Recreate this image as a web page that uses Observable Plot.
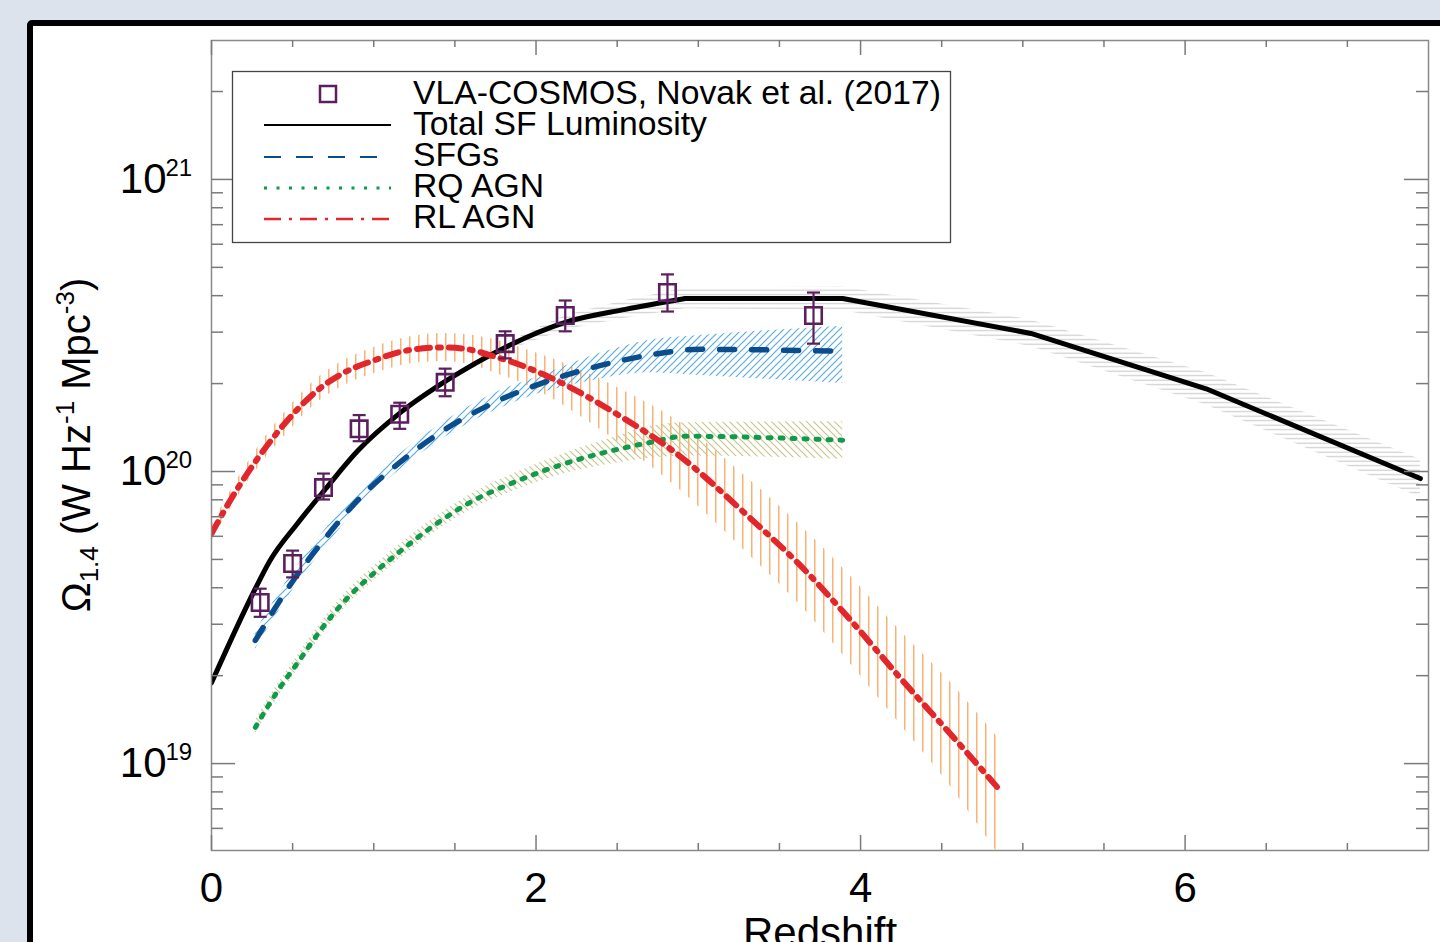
<!DOCTYPE html>
<html>
<head>
<meta charset="utf-8">
<script src="https://cdn.jsdelivr.net/npm/d3@7"></script>
<script src="https://cdn.jsdelivr.net/npm/@observablehq/plot@0.6"></script>
<style>
html,body{margin:0;padding:0;}
body{width:1440px;height:942px;overflow:hidden;background:#dde3ed;position:relative;font-family:"Liberation Sans",Arial,Helvetica,sans-serif;}
#frame{position:absolute;left:27px;top:20px;width:1500px;height:1000px;border:6px solid #000;border-radius:5px;background:#fff;box-sizing:border-box;}
#chart{position:absolute;left:0;top:0;}
#legend{position:absolute;left:0;top:0;}
</style>
</head>
<body>
<div id="frame"></div>
<div id="chart"></div>
<svg id="legend" width="1440" height="942" xmlns="http://www.w3.org/2000/svg" font-family="Liberation Sans, Arial, sans-serif">
  <rect x="232.5" y="71.5" width="718" height="171" fill="#fff" stroke="#444" stroke-width="1.3"/>
  <rect x="320" y="86" width="16" height="16" fill="none" stroke="#5c1f5e" stroke-width="2.5"/>
  <line x1="264" y1="125" x2="391" y2="125" stroke="#000" stroke-width="2"/>
  <line x1="264" y1="157" x2="391" y2="157" stroke="#0b4d8c" stroke-width="2.2" stroke-dasharray="17,15"/>
  <line x1="264" y1="188" x2="391" y2="188" stroke="#0f9a4c" stroke-width="3" stroke-dasharray="3,9.5"/>
  <line x1="264" y1="219" x2="391" y2="219" stroke="#e1262c" stroke-width="2.4" stroke-dasharray="17,8,3,8"/>
  <g font-size="33.7" fill="#000">
    <text x="413" y="103.8">VLA-COSMOS, Novak et al. (2017)</text>
    <text x="413" y="134.8">Total SF Luminosity</text>
    <text x="413" y="165.8">SFGs</text>
    <text x="413" y="196.8">RQ AGN</text>
    <text x="413" y="227.8">RL AGN</text>
  </g>
</svg>
<script>
// ---------- data ----------
// VLA-COSMOS data points (redshift, value, error-bar low, error-bar high)
const obsZ   = [0.30, 0.50, 0.69, 0.91, 1.16, 1.44, 1.81, 2.18, 2.81, 3.71];
const obsVal = [3.56e19, 4.84e19, 8.81e19, 1.40e20, 1.57e20, 2.02e20, 2.74e20, 3.42e20, 4.10e20, 3.42e20];
const obsLo  = [3.18e19, 4.34e19, 8.02e19, 1.27e20, 1.40e20, 1.81e20, 2.44e20, 3.02e20, 3.53e20, 2.74e20];
const obsHi  = [3.97e19, 5.36e19, 9.84e19, 1.56e20, 1.72e20, 2.25e20, 3.02e20, 3.85e20, 4.73e20, 4.10e20];

// Total SF luminosity (smooth part up to z=2.92, straight segments after)
const totZ   = [0, 0.27, 0.36, 0.53, 0.70, 0.90, 1.17, 1.45, 1.81, 2.18, 2.55, 2.92, 3.89, 5.05, 6.13, 7.45];
const totVal = [1.89e19, 3.97e19, 4.95e19, 6.64e19, 8.68e19, 1.175e20, 1.60e20, 2.05e20, 2.66e20, 3.24e20, 3.59e20, 3.91e20, 3.91e20, 2.97e20, 1.92e20, 9.46e19];
const totBandZ = [1.81, 2.18, 2.55, 2.92, 3.89, 5.05, 6.13, 7.45];
const totLo    = [2.57e20, 3.06e20, 3.35e20, 3.61e20, 3.56e20, 2.68e20, 1.69e20, 8.15e19];
const totHi    = [2.75e20, 3.42e20, 3.85e20, 4.24e20, 4.29e20, 3.30e20, 2.18e20, 1.10e20];

// SFGs
const sfgZ   = [0.27, 0.49, 0.69, 0.96, 1.12, 1.41, 1.74, 2.05, 2.35, 2.69, 3.01, 3.89];
const sfgVal = [2.64e19, 4.13e19, 5.81e19, 8.61e19, 1.03e20, 1.36e20, 1.72e20, 2.02e20, 2.27e20, 2.50e20, 2.62e20, 2.58e20];
const sfgLo  = [2.46e19, 3.85e19, 5.42e19, 8.07e19, 9.70e19, 1.28e20, 1.61e20, 1.87e20, 2.05e20, 2.18e20, 2.13e20, 2.00e20];
const sfgHi  = [2.82e19, 4.43e19, 6.22e19, 9.18e19, 1.10e20, 1.45e20, 1.85e20, 2.15e20, 2.49e20, 2.81e20, 2.92e20, 3.14e20];

// RQ AGN
const rqZ   = [0.27, 0.41, 0.53, 0.69, 0.84, 1.00, 1.17, 1.37, 1.58, 1.89, 2.19, 2.50, 2.71, 2.91, 3.89];
const rqVal = [1.33e19, 1.78e19, 2.21e19, 2.95e19, 3.70e19, 4.48e19, 5.37e19, 6.53e19, 7.76e19, 9.31e19, 1.07e20, 1.19e20, 1.26e20, 1.32e20, 1.28e20];
const rqLo  = [1.26e19, 1.68e19, 2.09e19, 2.79e19, 3.50e19, 4.23e19, 5.07e19, 6.17e19, 7.30e19, 8.69e19, 9.88e19, 1.07e20, 1.11e20, 1.13e20, 1.10e20];
const rqHi  = [1.41e19, 1.88e19, 2.34e19, 3.12e19, 3.92e19, 4.74e19, 5.69e19, 6.92e19, 8.25e19, 9.98e19, 1.16e20, 1.32e20, 1.43e20, 1.47e20, 1.48e20];

// RL AGN
const rlZ   = [0, 0.12, 0.26, 0.47, 0.65, 0.81, 1.00, 1.21, 1.43, 1.58, 1.74, 1.90, 2.15, 2.35, 2.50, 2.85, 3.32, 3.63, 3.94, 4.26, 4.55, 4.86];
const rlVal = [6.13e19, 8.04e19, 1.06e20, 1.50e20, 1.89e20, 2.17e20, 2.40e20, 2.60e20, 2.66e20, 2.62e20, 2.48e20, 2.32e20, 2.02e20, 1.76e20, 1.57e20, 1.17e20, 6.92e19, 4.76e19, 3.09e19, 1.92e19, 1.27e19, 8.09e18];
const rlLo  = [5.77e19, 7.50e19, 9.84e19, 1.36e20, 1.72e20, 1.96e20, 2.16e20, 2.33e20, 2.38e20, 2.33e20, 2.18e20, 2.02e20, 1.71e20, 1.45e20, 1.27e20, 9.00e19, 5.14e19, 3.48e19, 2.19e19, 1.33e19, 8.41e18, 4.8e18];
const rlHi  = [6.53e19, 8.62e19, 1.15e20, 1.64e20, 2.08e20, 2.39e20, 2.66e20, 2.88e20, 2.97e20, 2.94e20, 2.83e20, 2.66e20, 2.38e20, 2.13e20, 1.94e20, 1.52e20, 9.33e19, 6.53e19, 4.37e19, 2.79e19, 1.91e19, 1.20e19];

// ticks
const xMajor = [0, 2, 4, 6];
const xMinor = [0.5, 1, 1.5, 2.5, 3, 3.5, 4.5, 5, 5.5, 6.5, 7];
const yMajor = [1e19, 1e20, 1e21];
const yMinor = [6e18, 7e18, 8e18, 9e18,
                2e19, 3e19, 4e19, 5e19, 6e19, 7e19, 8e19, 9e19,
                2e20, 3e20, 4e20, 5e20, 6e20, 7e20, 8e20, 9e20,
                2e21];

// ---------- build tables ----------
const zip3 = (z, v, lo, hi) => z.map((d, i) => ({z: d, v: v ? v[i] : null, lo: lo ? lo[i] : null, hi: hi ? hi[i] : null}));
const obs = zip3(obsZ, obsVal, obsLo, obsHi);
const tot = zip3(totZ, totVal);
const totCurved = tot.filter(d => d.z <= 2.92);
const totStraight = tot.filter(d => d.z >= 2.92);
const totBand = zip3(totBandZ, null, totLo, totHi);
const sfg = zip3(sfgZ, sfgVal, sfgLo, sfgHi);
const rq = zip3(rqZ, rqVal, rqLo, rqHi);
const rl = zip3(rlZ, rlVal, rlLo, rlHi);

const purple = "#5c1f5e";
const tickColor = "#7a7a7a";
const cap = {draw(ctx, size) { const w = Math.sqrt(size / Math.PI); ctx.moveTo(-w, 0); ctx.lineTo(w, 0); }};
const smooth = "monotone-x";

const plot = Plot.plot({
  width: 1440, height: 942,
  marginLeft: 211, marginRight: 12, marginTop: 40, marginBottom: 92,
  style: {background: "transparent", fontFamily: "Liberation Sans, Arial, sans-serif", color: "#000", overflow: "visible"},
  x: {domain: [0, 7.5], axis: null},
  y: {type: "log", domain: [5.04e18, 2.99e21], axis: null},
  marks: [
    Plot.areaY(totBand, {x: "z", y1: "lo", y2: "hi", fill: "url(#hGray)", clip: true}),
    Plot.areaY(rl, {x: "z", y1: "lo", y2: "hi", fill: "url(#hOrange)", curve: smooth, clip: true}),
    Plot.areaY(sfg, {x: "z", y1: "lo", y2: "hi", fill: "url(#hBlue)", curve: smooth, clip: true}),
    Plot.areaY(rq, {x: "z", y1: "lo", y2: "hi", fill: "url(#hOlive)", curve: smooth, clip: true}),
    Plot.line(totCurved, {x: "z", y: "v", stroke: "#000", strokeWidth: 5, curve: smooth, clip: true}),
    Plot.line(totStraight, {x: "z", y: "v", stroke: "#000", strokeWidth: 5, strokeLinejoin: "miter", clip: true}),
    Plot.line(sfg, {x: "z", y: "v", stroke: "#0b4d8c", strokeWidth: 5.5, strokeDasharray: "15,17", curve: smooth, clip: true}),
    Plot.line(rq, {x: "z", y: "v", stroke: "#0f9a4c", strokeWidth: 5, strokeDasharray: "3,9", curve: smooth, clip: true}),
    Plot.line(rl, {x: "z", y: "v", stroke: "#e1262c", strokeWidth: 6, strokeDasharray: "13,8,3,8", curve: smooth, clip: true}),
    Plot.ruleX(obs, {x: "z", y1: "lo", y2: "hi", stroke: purple, strokeWidth: 2.2}),
    Plot.dot(obs, {x: "z", y: "hi", symbol: cap, r: 6.5, stroke: purple, strokeWidth: 2.2, fill: "none"}),
    Plot.dot(obs, {x: "z", y: "lo", symbol: cap, r: 6.5, stroke: purple, strokeWidth: 2.2, fill: "none"}),
    Plot.dot(obs, {x: "z", y: "v", symbol: "square", r: 9.3, stroke: purple, strokeWidth: 2.6, fill: "none"}),
    // frame and inward ticks on all sides
    Plot.frame({stroke: "#8a8a8a", strokeWidth: 1.5}),
    Plot.ruleX(xMinor, {insetTop: 803, stroke: tickColor, strokeWidth: 1.5}),
    Plot.ruleX(xMinor, {insetBottom: 803, stroke: tickColor, strokeWidth: 1.5}),
    Plot.ruleX(xMajor, {insetTop: 795, stroke: tickColor, strokeWidth: 1.5}),
    Plot.ruleX(xMajor, {insetBottom: 795, stroke: tickColor, strokeWidth: 1.5}),
    Plot.ruleY(yMinor, {insetRight: 1205, stroke: tickColor, strokeWidth: 1.5}),
    Plot.ruleY(yMinor, {insetLeft: 1205, stroke: tickColor, strokeWidth: 1.5}),
    Plot.ruleY(yMajor, {insetRight: 1193, stroke: tickColor, strokeWidth: 1.5}),
    Plot.ruleY(yMajor, {insetLeft: 1193, stroke: tickColor, strokeWidth: 1.5}),
    // tick labels
    Plot.text(xMajor, {x: d => d, frameAnchor: "bottom", dy: 22, lineAnchor: "top", fontSize: 42, text: d => String(d), fill: "#000"}),
    Plot.text(yMajor, {y: d => d, frameAnchor: "left", dx: -45, textAnchor: "end", lineAnchor: "middle", fontSize: 42, text: () => "10", fill: "#000"}),
    Plot.text(yMajor, {y: d => d, frameAnchor: "left", dx: -46, dy: -11.5, textAnchor: "start", lineAnchor: "middle", fontSize: 24, text: d => String(Math.round(Math.log10(d))), fill: "#000"}),
    Plot.text(["Redshift"], {frameAnchor: "bottom", dy: 67, lineAnchor: "top", fontSize: 42, fill: "#000"})
  ]
});

const NS = "http://www.w3.org/2000/svg";
const defs = document.createElementNS(NS, "defs");
defs.innerHTML =
  '<pattern id="hGray" patternUnits="userSpaceOnUse" width="12" height="4.5"><rect x="0" y="1.6" width="12" height="1.2" fill="#cdcdcd"/></pattern>' +
  '<pattern id="hBlue" patternUnits="userSpaceOnUse" width="7" height="7"><path d="M-1,1 L1,-1 M0,7 L7,0 M6,8 L8,6" stroke="#58ade2" stroke-width="1.2"/></pattern>' +
  '<pattern id="hOlive" patternUnits="userSpaceOnUse" width="7" height="7"><path d="M-1,6 L1,8 M0,0 L7,7 M6,-1 L8,1" stroke="#c6c68c" stroke-width="1.2"/></pattern>' +
  '<pattern id="hOrange" patternUnits="userSpaceOnUse" width="9" height="10"><rect x="4" y="0" width="1.5" height="10" fill="#f8b273"/></pattern>';
plot.insertBefore(defs, plot.firstChild);

// y-axis title with subscript / superscripts
const yt = document.createElementNS(NS, "text");
yt.setAttribute("transform", "translate(90,445) rotate(-90)");
yt.setAttribute("text-anchor", "middle");
yt.setAttribute("font-size", "40");
yt.setAttribute("fill", "#000");
yt.innerHTML = 'Ω<tspan font-size="26" dy="8">1.4</tspan><tspan dy="-8"> (W Hz</tspan><tspan font-size="26" dy="-16">-1</tspan><tspan dy="16"> Mpc</tspan><tspan font-size="26" dy="-16">-3</tspan><tspan dy="16">)</tspan>';
plot.appendChild(yt);

document.getElementById("chart").appendChild(plot);
</script>
</body>
</html>
